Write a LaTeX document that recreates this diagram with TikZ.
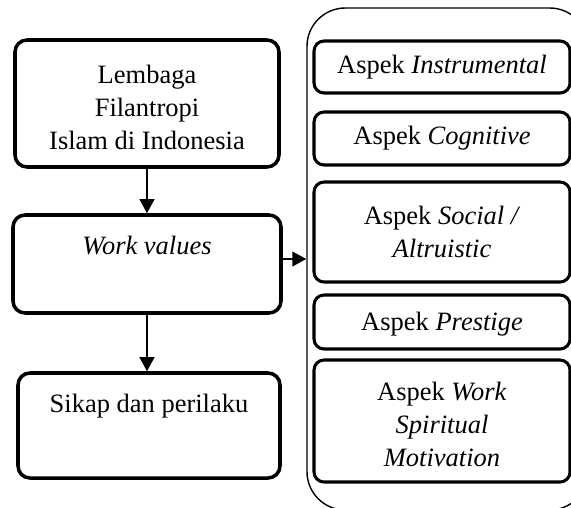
\documentclass[tikz,border=0pt]{standalone}
\usepackage{fontspec}
\setmainfont{Liberation Serif}
\usetikzlibrary{fit,arrows.meta}

\tikzset{
  box/.style={draw, line width=3pt, rounded corners=0.36cm, inner sep=0pt},
  aspek/.style={draw, line width=2.6pt, rounded corners=0.3cm, inner sep=0pt, align=center},
  group/.style={draw, line width=1.2pt, rounded corners=1.15cm, inner sep=0pt},
  txt/.style={align=center, font=\fontsize{22.6}{28.5}\selectfont},
  link/.style={line width=1.7pt, -{Triangle[length=0.42cm,width=0.44cm]}}
}

\begin{document}
\begin{tikzpicture}[x=0.03cm, y=-0.03cm]
        \useasboundingbox (0,0) rectangle (571,507);
        \clip (0,0) rectangle (571,507);
        % left column
        \node (lem) [box, fit={(15,40) (279,167)}] {};
        \node (lemtext) [txt] at ([yshift=-0.12cm]lem.center) {Lembaga\\Filantropi\\Islam di Indonesia};
        \node (wv) [box, fit={(13,215) (281,313)}] {};
        \node (wvtext) [txt, anchor=north] at ([yshift=-0.55cm]wv.north) {\itshape Work values};
        \node (sik) [box, fit={(18,373) (280,478)}] {};
        \node (siktext) [txt, anchor=north] at ([yshift=-0.55cm]sik.north) {Sikap dan perilaku};
        % right column
        \node (grp) [group, fit={(307,8) (588,510)}] {};
        \node (ins) [aspek, fit={(314,41) (570,93)}] {};
        \node [txt] at (ins) {Aspek \textit{Instrumental}};
        \node (cog) [aspek, fit={(314,112) (570,165)}] {};
        \node [txt] at (cog) {Aspek \textit{Cognitive}};
        \node (soc) [aspek, fit={(314,182) (570,282)}] {};
        \node [txt] at (soc) {Aspek \textit{Social /}\\\textit{Altruistic}};
        \node (pre) [aspek, fit={(314,295) (570,349)}] {};
        \node [txt] at ([yshift=-0.06cm]pre.center) {Aspek \textit{Prestige}};
        \node (wsm) [aspek, fit={(314,360) (570,482)}] {};
        \node [txt] at ([yshift=-0.1cm]wsm.center) {Aspek \textit{Work}\\\textit{Spiritual}\\\textit{Motivation}};
        % arrows
        \draw[link] (lem.south) -- (wv.north);
        \draw[link] (wv.south) -- (wv.south |- sik.north);
        \draw[link] (wv.east |- grp.west) -- (grp.west);
    \end{tikzpicture}
\end{document}
